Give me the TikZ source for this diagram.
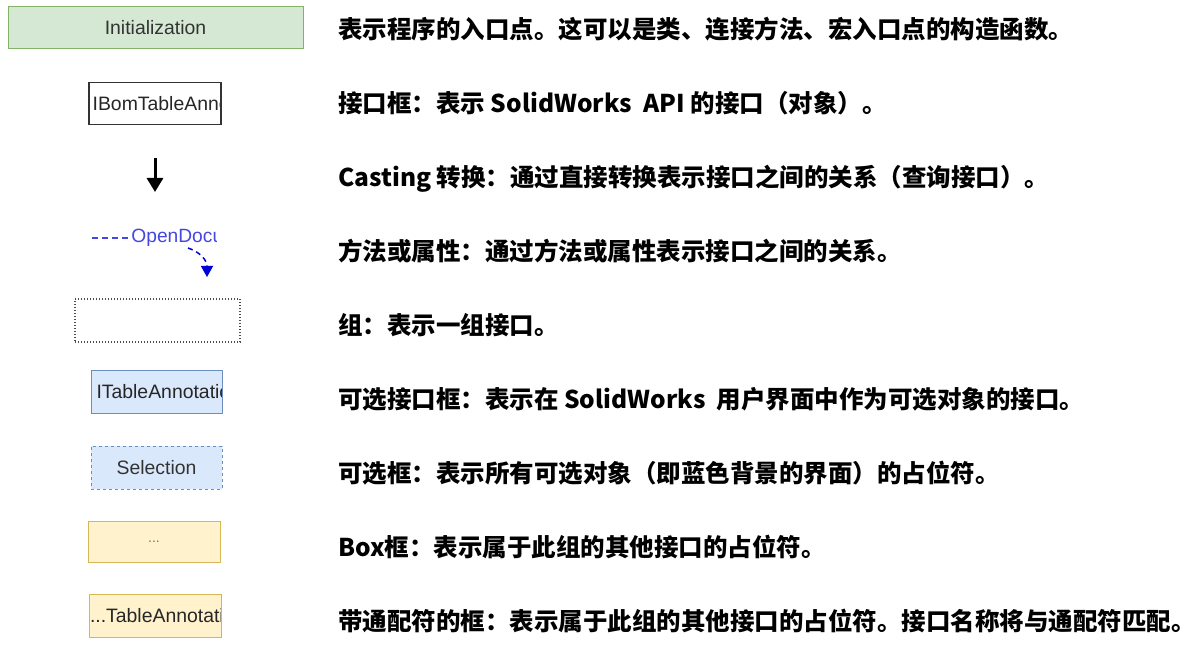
\documentclass[tikz,border=0pt]{standalone}
\usepackage{fontspec}
\usepackage{tikz}
\usetikzlibrary{arrows.meta}
\newfontfamily\cjk{Noto Sans CJK SC}
\newfontfamily\labelfont{Liberation Sans}
\definecolor{initfill}{HTML}{D5E8D4}
\definecolor{initline}{HTML}{82B366}
\definecolor{selfill}{HTML}{DAE8FC}
\definecolor{selline}{HTML}{6C8EBF}
\definecolor{otherfill}{HTML}{FFF2CC}
\definecolor{otherline}{HTML}{D6B656}
\definecolor{methblue}{HTML}{4646E0}

\begin{document}
\begin{tikzpicture}[x=1pt,y=-1pt,
  box/.style={rectangle,draw,inner sep=0pt,minimum width=132pt,minimum height=42pt,
    line width=1pt,font=\labelfont\fontsize{19.4}{21}\selectfont,text=black!80},
  cut/.style 2 args={path picture={\node[anchor=west,inner sep=0pt,text=black!85,
    font=\labelfont\fontsize{19.4}{21}\selectfont] at ([xshift=#1]path picture bounding box.west) {#2};}},
  desc/.style={anchor=base west,inner sep=0pt,font=\cjk\bfseries\fontsize{24.5}{28}\selectfont}]
  \useasboundingbox (0,0) rectangle (1192,647);

  % legend symbols
  \node[box,fill=initfill,draw=initline,minimum width=295pt] (init) at (155.5,28) {Initialization};
  \node[box,draw=black!80,line width=1.3pt,cut={3pt}{IBomTableAnnotation}] (iface) at (155,103.5) {};
  \coordinate (cast top) at (155,158);
  \coordinate (cast end) at (155,192);
  \draw[-{Triangle[width=16pt,length=14pt]},line width=3pt] (cast top) -- (cast end);
  \node[rectangle,inner sep=0pt,minimum width=85pt,minimum height=22pt,anchor=west,
    path picture={\node[anchor=west,inner sep=0pt,text=methblue,font=\labelfont\fontsize{19.2}{21}\selectfont]
      at (path picture bounding box.west) {OpenDocument};}] (meth) at (131,238) {};
  \coordinate (meth in) at (92,238);
  \coordinate (meth out) at (188,248);
  \coordinate (meth end) at (207,277);
  \draw[dash pattern=on 6pt off 4pt,methblue,line width=1.3pt] (meth in) -- (meth.west);
  \draw[dash pattern=on 5pt off 4pt,blue!85!black,line width=1.5pt,-{Triangle[width=12pt,length=11pt]}]
    (meth out) .. controls (200,252) and (207,260) .. (meth end);
  \node[box,draw=black!70,dotted,line width=1.2pt,minimum width=165pt,minimum height=43pt] (group) at (157.5,320.5) {};
  \node[box,fill=selfill,draw=selline,minimum width=131pt,minimum height=43pt,cut={5pt}{ITableAnnotation}] (selif) at (156.5,391.5) {};
  \node[box,fill=selfill,draw=selline,dashed,minimum width=131pt,minimum height=43pt] (sel) at (156.5,467.5) {Selection};
  \node[box,fill=otherfill,draw=otherline,minimum height=41pt,font=\labelfont\fontsize{14}{16}\selectfont,text=black!55] (other) at (154,541.5) {...};
  \node[box,fill=otherfill,draw=otherline,minimum height=43pt,cut={0.5pt}{...TableAnnotation}] (wild) at (155,615.5) {};

  % descriptions
  \foreach \t [count=\i] in {表示程序的入口点。这可以是类、连接方法、宏入口点的构造函数。,
    接口框：表示 SolidWorks~~API 的接口（对象）。,
    Casting 转换：通过直接转换表示接口之间的关系（查询接口）。,
    方法或属性：通过方法或属性表示接口之间的关系。,
    组：表示一组接口。,
    可选接口框：表示在 SolidWorks\hspace{0.45em}用户界面中作为可选对象的接口。,
    可选框：表示所有可选对象（即蓝色背景的界面）的占位符。,
    Box框：表示属于此组的其他接口的占位符。,
    带通配符的框：表示属于此组的其他接口的占位符。接口名称将与通配符匹配。}
    \node[desc] (d\i) at (338,{39+73.9*(\i-1)}) {\t};
\end{tikzpicture}
\end{document}
